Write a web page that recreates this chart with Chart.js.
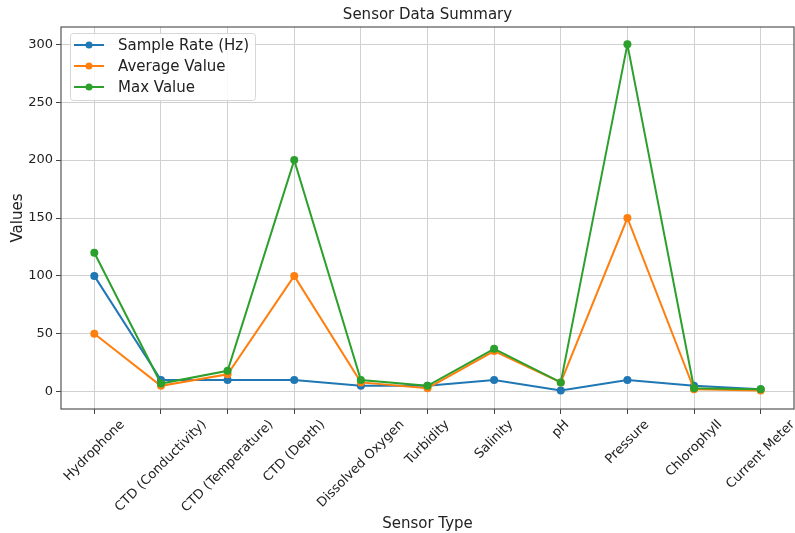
<!DOCTYPE html>
<html>
<head>
<meta charset="utf-8">
<script src="https://cdn.jsdelivr.net/npm/chart.js@4/dist/chart.umd.min.js"></script>
<style>
  html, body { margin: 0; padding: 0; background: #ffffff; }
  #wrap { width: 795px; height: 533px; }
</style>
</head>
<body>
<div id="wrap"><canvas id="c" width="795" height="533"></canvas></div>
<script>
// Sensor readings per instrument
const sensors = ['Hydrophone', 'CTD (Conductivity)', 'CTD (Temperature)', 'CTD (Depth)',
  'Dissolved Oxygen', 'Turbidity', 'Salinity', 'pH', 'Pressure', 'Chlorophyll', 'Current Meter'];
const sampleRate = [100, 10, 10, 10, 5, 5, 10, 1, 10, 5, 2];
const averageValue = [50, 5, 15, 100, 8, 3, 35, 8, 150, 2, 1];
const maxValue = [120, 7, 18, 200, 10, 5, 37, 8, 300, 3, 2];
const yTicks = [0, 50, 100, 150, 200, 250, 300];
const chartTitle = 'Sensor Data Summary';

const FONT = "'DejaVu Sans', sans-serif";
const TEXT = '#222222';

// Frame around the plotting area and the title above it
const framePlugin = {
  id: 'frame',
  afterDraw(chart) {
    const { ctx, chartArea: a } = chart;
    ctx.save();
    ctx.strokeStyle = '#555555';
    ctx.lineWidth = 1.2;
    ctx.strokeRect(a.left, a.top, a.right - a.left, a.bottom - a.top);
    ctx.font = '15px ' + FONT;
    ctx.fillStyle = TEXT;
    ctx.textAlign = 'center';
    ctx.textBaseline = 'middle';
    ctx.fillText(chartTitle, (a.left + a.right) / 2, a.top - 12);
    ctx.restore();
  }
};

// Rotated category labels, centred under each tick
const xLabelPlugin = {
  id: 'xLabels',
  afterDraw(chart) {
    const { ctx, chartArea: a } = chart;
    const xs = chart.scales.x;
    ctx.save();
    ctx.font = '13px ' + FONT;
    ctx.fillStyle = TEXT;
    ctx.textAlign = 'center';
    ctx.textBaseline = 'middle';
    const h = 13;
    const c = Math.SQRT1_2;
    const top = a.bottom + 9;
    xs.ticks.forEach((t, i) => {
      const label = xs.getLabelForValue(t.value);
      const w = ctx.measureText(label).width;
      const bh = (w + h) * c;
      const x = xs.getPixelForTick(i);
      ctx.save();
      ctx.translate(x, top + bh / 2);
      ctx.rotate(-Math.PI / 4);
      ctx.fillText(label, 0, 0);
      ctx.restore();
    });
    ctx.restore();
  }
};

// Legend box in the upper left of the plot
const legendPlugin = {
  id: 'boxLegend',
  afterDraw(chart) {
    const { ctx, chartArea: a } = chart;
    const x0 = a.left + 9, y0 = a.top + 6, w = 185, hgt = 67;
    ctx.save();
    ctx.fillStyle = 'rgba(255,255,255,0.85)';
    ctx.strokeStyle = '#d6d6d6';
    ctx.lineWidth = 1;
    ctx.beginPath();
    ctx.roundRect(x0 + 0.5, y0 + 0.5, w, hgt, 3);
    ctx.fill();
    ctx.stroke();
    ctx.font = '15px ' + FONT;
    ctx.textBaseline = 'middle';
    ctx.textAlign = 'left';
    chart.data.datasets.forEach((ds, i) => {
      const y = y0 + 12 + i * 21;
      ctx.strokeStyle = ds.borderColor;
      ctx.lineWidth = 2;
      ctx.beginPath();
      ctx.moveTo(x0 + 4, y);
      ctx.lineTo(x0 + 34, y);
      ctx.stroke();
      ctx.fillStyle = ds.backgroundColor;
      ctx.beginPath();
      ctx.arc(x0 + 19, y, 3.5, 0, Math.PI * 2);
      ctx.fill();
      ctx.fillStyle = TEXT;
      ctx.fillText(ds.label, x0 + 48, y + 1);
    });
    ctx.restore();
  }
};

const series = [
  { label: 'Sample Rate (Hz)', data: sampleRate, color: '#1f77b4', order: 3 },
  { label: 'Average Value', data: averageValue, color: '#ff7f0e', order: 2 },
  { label: 'Max Value', data: maxValue, color: '#2ca02c', order: 1 }
];

new Chart(document.getElementById('c'), {
  type: 'line',
  data: {
    labels: sensors,
    datasets: series.map(s => ({
      label: s.label,
      data: s.data,
      order: s.order,
      borderColor: s.color,
      backgroundColor: s.color,
      borderWidth: 2,
      pointRadius: 4,
      pointHoverRadius: 4,
      pointBorderWidth: 0,
      tension: 0,
      fill: false
    }))
  },
  options: {
    responsive: false,
    animation: false,
    layout: { autoPadding: false, padding: { left: 0, right: 1, top: 27, bottom: 0 } },
    plugins: {
      legend: { display: false },
      tooltip: { enabled: false },
      title: { display: false }
    },
    scales: {
      x: {
        type: 'category',
        offset: true,
        border: { display: false },
        grid: { color: '#d0d0d0', lineWidth: 1, tickLength: 5, tickColor: '#444444', drawTicks: true },
        ticks: { display: false, autoSkip: false },
        title: {
          display: true,
          text: 'Sensor Type',
          color: TEXT,
          font: { family: FONT, size: 15 },
          padding: { top: 0, bottom: 0 }
        },
        afterFit(scale) { scale.height = 124; }
      },
      y: {
        min: -15,
        max: 315,
        border: { display: false },
        grid: { color: '#d0d0d0', lineWidth: 1, tickLength: 5, tickColor: '#444444', drawTicks: true },
        afterBuildTicks(scale) { scale.ticks = yTicks.map(v => ({ value: v })); },
        ticks: {
          color: TEXT,
          font: { family: FONT, size: 13 },
          padding: 3
        },
        title: {
          display: true,
          text: 'Values',
          color: TEXT,
          font: { family: FONT, size: 15 },
          padding: { top: 9, bottom: 0 }
        },
        afterFit(scale) { scale.width = 61; }
      }
    }
  },
  plugins: [framePlugin, xLabelPlugin, legendPlugin]
});
</script>
</body>
</html>
